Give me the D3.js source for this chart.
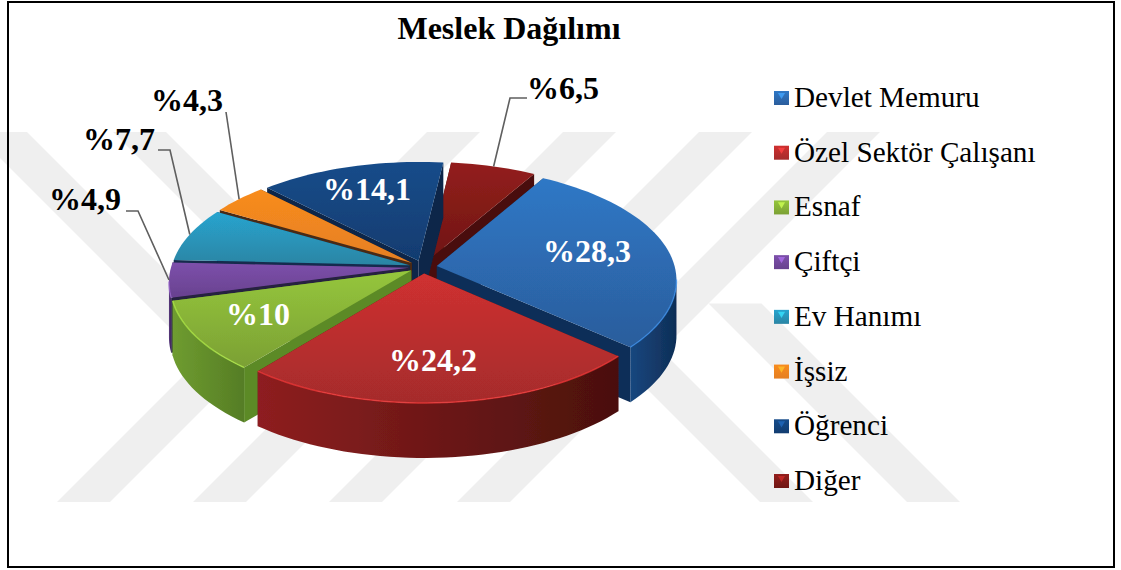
<!DOCTYPE html>
<html lang="en">
<head>
<meta charset="utf-8">
<title>Meslek Dağılımı</title>
<script src="https://cdn.jsdelivr.net/npm/d3@7"></script>
<style>
  html, body { margin: 0; padding: 0; background: #fff; }
  svg { display: block; }
  text { font-family: "Liberation Serif", serif; }
</style>
</head>
<body>
<script>
var chartTitle = "Meslek Dağılımı";
var categories = ["Devlet Memuru", "Özel Sektör Çalışanı", "Esnaf", "Çiftçi", "Ev Hanımı", "İşsiz", "Öğrenci", "Diğer"];
var shares = [28.3, 24.2, 10, 4.9, 7.7, 4.3, 14.1, 6.5];
var shareLabels = ["%28,3", "%24,2", "%10", "%4,9", "%7,7", "%4,3", "%14,1", "%6,5"];

// colours: top face light/dark, wall light/dark, cut face
var topLight  = ["#2f78c6", "#cf3030", "#95c63c", "#7d50ab", "#28a4cf", "#f88c1e", "#174c8a", "#931e1c"];
var topDark   = ["#2b5d9c", "#a52c2c", "#7ba034", "#68418f", "#2a85a4", "#e57f22", "#113c70", "#6f1613"];
var wallLight = ["#17477f", "#8e1f20", "#6f9c30", "#5a3a80", "#1f6c88", "#b8651a", "#0e2f5a", "#5a1210"];
var wallDark  = ["#0f2e56", "#4a100d", "#557d25", "#3c2658", "#16506a", "#8a4a12", "#0a2344", "#420c0a"];
var cutFace   = ["#102f58", "#5c1512", "#5c8a26", "#25203f", "#122c4e", "#4a2c16", "#0b2548", "#4a0e0c"];

// label placement, same order as the categories
var labelAt = [[587, 262], [433, 371], [258, 325], [85, 210], [119, 150], [187, 111], [367, 200], [563, 99]];
var leaderKnee = [null, null, null, [138, 211], [170, 150], null, null, [510, 98]];
var leaderFrom = [null, null, null, [126, 211], [158, 150], [226, 112], null, [527, 98]];
var insideLabel = [true, true, true, false, false, false, true, false];

var width = 1121, height = 570;
var cx = 423, cy = 267, R = 238, explode = 14, depth = 55;
var persp = 0.12, tilt = 0.471;
var startDeg = 30;

var svg = d3.select("body").append("svg")
    .attr("width", width)
    .attr("height", height);

var defs = svg.append("defs");
defs.append("filter").attr("id", "soft")
    .attr("x", "-5%").attr("y", "-5%").attr("width", "110%").attr("height", "110%")
  .append("feGaussianBlur").attr("stdDeviation", 0.6);

function gradient(id, x2, y2, stops) {
  var g = defs.append("linearGradient").attr("id", id)
      .attr("x1", 0).attr("y1", 0).attr("x2", x2).attr("y2", y2);
  stops.forEach(function(s) {
    g.append("stop").attr("offset", s[0]).attr("stop-color", s[1]);
  });
}

svg.append("rect").attr("width", width).attr("height", height).attr("fill", "#fff");

// watermark behind the chart
var wmTop = 132, wmFoot = 502, wmW = 53;
var wm = svg.append("g").attr("fill", "#efefef");
var wmLine = d3.line();
[57, 193, 329, 457].forEach(function(foot) {
  var run = wmFoot - wmTop;
  wm.append("path").attr("d", wmLine([[foot, wmFoot], [foot + wmW, wmFoot], [foot + wmW + run, wmTop], [foot + run, wmTop]]) + "Z");
});
// the back strokes: top left pair stop on the first two long strokes, bottom right pair start from the last two
[[-26, 57], [113, 193]].forEach(function(s) {
  var x0 = s[0], mid = wmFoot + s[1] + wmW / 2;
  var stopY = (mid - x0 + wmTop) / 2;
  var d = stopY - wmTop;
  wm.append("path").attr("d", wmLine([[x0, wmTop], [x0 + wmW, wmTop], [x0 + wmW + d, stopY], [x0 + d, stopY]]) + "Z");
});
[[760, 329], [907, 457]].forEach(function(s) {
  var x0 = s[0], c = s[1] + wmW + wmFoot;
  var stopY = (c - x0 + wmFoot) / 2;
  var d = wmFoot - stopY;
  wm.append("path").attr("d", wmLine([[x0, wmFoot], [x0 + wmW, wmFoot], [x0 + wmW - d, stopY], [x0 - d, stopY]]) + "Z");
});

// frame
svg.append("rect")
    .attr("x", 8).attr("y", 2).attr("width", 1106).attr("height", 565)
    .attr("fill", "none").attr("stroke", "#000").attr("stroke-width", 2);

svg.append("text")
    .attr("x", 509).attr("y", 39)
    .attr("text-anchor", "middle")
    .attr("font-size", 32).attr("font-weight", "bold")
    .text(chartTitle);

// pie layout
var toRad = Math.PI / 180;
var pie = d3.pie().sort(null)
    .startAngle(startDeg * toRad)
    .endAngle((startDeg + 360) * toRad);
var arcs = pie(shares).map(function(a, i) {
  a.i = i;
  a.mid = (a.startAngle + a.endAngle) / 2;
  return a;
});

// plane of the pie -> screen, with a bit of perspective
function project(a, r, mid) {
  var px = r * Math.sin(a) + explode * Math.sin(mid);
  var py = r * Math.cos(a) + explode * Math.cos(mid);
  var s = 1 + persp * py / R;
  return [cx + px / s, cy - py * tilt / s];
}
function rim(a0, a1, mid) {
  var n = Math.max(2, Math.ceil((a1 - a0) / (toRad * 2)));
  return d3.range(n + 1).map(function(k) {
    return project(a0 + (a1 - a0) * k / n, R, mid);
  });
}
function down(pts) {
  return pts.map(function(p) { return [p[0], p[1] + depth]; });
}

var line = d3.line();
var pieG = svg.append("g").attr("filter", "url(#soft)");
var silhouette = Math.acos(-persp);

arcs.forEach(function(a) {
  gradient("top" + a.i, 0, 1, [[0, topLight[a.i]], [1, topDark[a.i]]]);
  gradient("wall" + a.i, 1, 0, [[0, wallLight[a.i]], [1, wallDark[a.i]]]);
});

// far slices first
arcs.slice().sort(function(p, q) { return Math.cos(q.mid) - Math.cos(p.mid); }).forEach(function(a) {
  var tip = project(a.mid, 0, a.mid);
  var g = pieG.append("g");

  [a.startAngle, a.endAngle].forEach(function(ang) {
    var e = project(ang, R, a.mid);
    var q = [tip, e, [e[0], e[1] + depth], [tip[0], tip[1] + depth]];
    g.append("path").attr("d", line(q) + "Z").attr("fill", cutFace[a.i]);
  });

  // outer wall, only the front half of the circle shows
  var turn = 2 * Math.PI;
  [0, turn].forEach(function(shift) {
    var lo = Math.max(a.startAngle, silhouette + shift);
    var hi = Math.min(a.endAngle, turn - silhouette + shift);
    if (hi > lo) {
      var edge = rim(lo, hi, a.mid);
      g.append("path")
          .attr("d", line(edge.concat(down(edge).reverse())) + "Z")
          .attr("fill", "url(#wall" + a.i + ")");
    }
  });

  var top = [tip].concat(rim(a.startAngle, a.endAngle, a.mid));
  g.append("path").attr("d", line(top) + "Z").attr("fill", "url(#top" + a.i + ")");

  // light bevel along the front edge
  var lo = Math.max(a.startAngle, silhouette);
  var hi = Math.min(a.endAngle, turn - silhouette);
  if (hi > lo) {
    g.append("path").attr("d", line(rim(lo, hi, a.mid)))
        .attr("fill", "none")
        .attr("stroke", d3.color(topLight[a.i]).brighter(0.5))
        .attr("stroke-opacity", 0.7)
        .attr("stroke-width", 1.5);
  }
});

// leader lines
arcs.forEach(function(a) {
  if (!leaderFrom[a.i]) return;
  var pts = [leaderFrom[a.i]];
  if (leaderKnee[a.i]) pts.push(leaderKnee[a.i]);
  pts.push(project(a.mid, R, a.mid));
  svg.append("path").attr("d", line(pts))
      .attr("fill", "none").attr("stroke", "#5f5f5f").attr("stroke-width", 1.6);
});

svg.append("g").selectAll("text")
    .data(arcs)
    .enter().append("text")
    .attr("x", function(d) { return labelAt[d.i][0]; })
    .attr("y", function(d) { return labelAt[d.i][1]; })
    .attr("text-anchor", "middle")
    .attr("font-size", 32).attr("font-weight", "bold")
    .attr("fill", function(d) { return insideLabel[d.i] ? "#fff" : "#000"; })
    .text(function(d) { return shareLabels[d.i]; });

// legend
var legendY = d3.scalePoint().domain(categories).range([98, 481]);
var legend = svg.append("g").selectAll("g")
    .data(categories)
    .enter().append("g")
    .attr("transform", function(d) { return "translate(774," + legendY(d) + ")"; });

legend.append("rect")
    .attr("x", 0).attr("y", -7).attr("width", 15).attr("height", 14)
    .attr("fill", function(d, i) { return "url(#top" + i + ")"; });
legend.append("path")
    .attr("d", d3.symbol(d3.symbolTriangle, 22))
    .attr("transform", "translate(7.5,-3) rotate(180)")
    .attr("fill", function(d, i) { return d3.color(topLight[i]).brighter(0.9); })
    .attr("fill-opacity", 0.8);
legend.append("text")
    .attr("x", 20).attr("y", 9)
    .attr("font-size", 29.2)
    .text(function(d) { return d; });
</script>
</body>
</html>
